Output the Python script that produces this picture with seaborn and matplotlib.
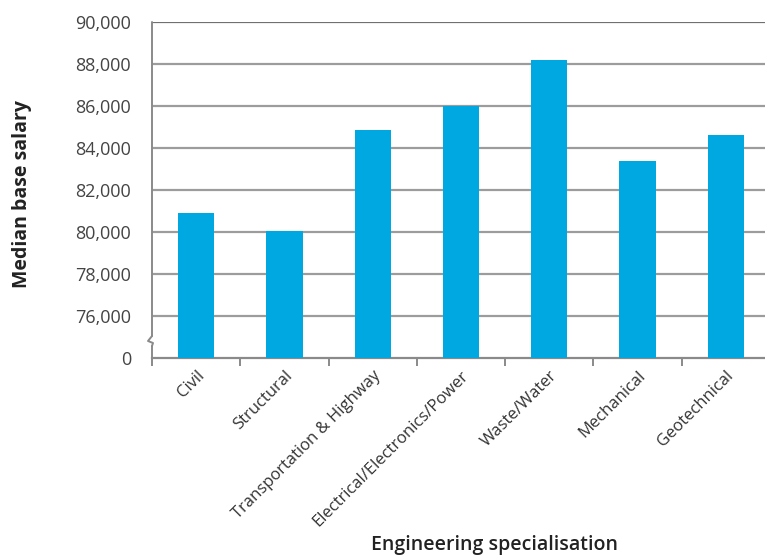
import numpy as np
import pandas as pd
import matplotlib
matplotlib.use("Agg")
import matplotlib.pyplot as plt
import matplotlib.ticker as mticker
from matplotlib.lines import Line2D
import seaborn as sns

# Median base salary by engineering specialisation
specialisations = [
    "Civil",
    "Structural",
    "Transportation & Highway",
    "Electrical/Electronics/Power",
    "Waste/Water",
    "Mechanical",
    "Geotechnical",
]
median_salary = [80900, 80030, 84870, 86010, 88200, 83390, 84630]

y_ticks = [0, 76000, 78000, 80000, 82000, 84000, 86000, 88000, 90000]

BREAK = 76000   # values below this are compressed into one tick step
STEP = 2000

df = pd.DataFrame({"specialisation": specialisations, "salary": median_salary})

sns.set_theme(style="white")
plt.rcParams["font.family"] = ["Open Sans", "DejaVu Sans"]

fig = plt.figure(figsize=(7.65, 5.55), dpi=100)
W, H = 765, 555
left_px, right_px, top_px, bottom_px = 152, 770, 22, 358
ax = fig.add_axes([left_px / W, 1 - bottom_px / H,
                   (right_px - left_px) / W, (bottom_px - top_px) / H])

bar_color = "#00A8E1"
sns.barplot(data=df, x="specialisation", y="salary", color=bar_color,
            width=0.41, saturation=1, linewidth=0, ax=ax, zorder=3)


# broken y axis: 0..76,000 occupies a single tick interval
def fwd(v):
    v = np.asarray(v, dtype=float)
    return np.where(v < BREAK, v * STEP / BREAK, v - (BREAK - STEP))


def inv(u):
    u = np.asarray(u, dtype=float)
    return np.where(u < STEP, u * BREAK / STEP, u + (BREAK - STEP))


ax.set_yscale("function", functions=(fwd, inv))
ax.set_ylim(0, 90000)
ax.set_xlim(-0.5, len(specialisations) - 0.5)

ax.yaxis.set_major_locator(mticker.FixedLocator(y_ticks))
ax.yaxis.set_minor_locator(mticker.NullLocator())
ax.yaxis.set_major_formatter(mticker.FuncFormatter(lambda v, p: f"{v:,.0f}"))

grid_color = "#9c9c9c"
for t in y_ticks[1:]:
    ax.axhline(t, color=grid_color if t < 90000 else "#707070",
               lw=1.6, zorder=1)

# category boundary ticks on the x axis
ax.set_xticks(range(len(specialisations)))
ax.set_xticklabels(specialisations, rotation=45, ha="right",
                   rotation_mode="anchor", fontsize=12, color="#333333")
ax.xaxis.set_minor_locator(mticker.FixedLocator(
    np.arange(-0.5, len(specialisations) + 0.5, 1.0)))
ax.tick_params(axis="x", which="major", length=0, pad=7)
ax.tick_params(axis="x", which="minor", length=6, width=1.2,
               color="#777777", direction="out", bottom=True)
ax.tick_params(axis="y", length=0, pad=15, labelsize=13,
               labelcolor="#444444")

for s in ["top", "right"]:
    ax.spines[s].set_visible(False)
ax.spines["bottom"].set_color("#8a8a8a")
ax.spines["bottom"].set_linewidth(1.6)
ax.spines["left"].set_visible(False)

# left spine drawn in two pieces with a zigzag break between them
ax_h = bottom_px - top_px
ax_w = right_px - left_px
def yf(px):
    return (bottom_px - px) / ax_h
def xf(dx):
    return dx / ax_w
spine_kw = dict(color="#8a8a8a", lw=1.4, transform=ax.transAxes,
                clip_on=False, zorder=5)
ax.add_line(Line2D([0, 0], [yf(bottom_px + 1), yf(346)], **spine_kw))
ax.add_line(Line2D([0, 0], [yf(336), 1.0], **spine_kw))
ax.add_line(Line2D([xf(0), xf(-4), xf(1), xf(0)],
                   [yf(336), yf(341), yf(343), yf(346)], **spine_kw))

ax.set_xlabel("")
ax.set_ylabel("")
fig.text(22 / W, 1 - 194 / H, "Median base salary", rotation=90,
         ha="center", va="center", fontsize=14, fontweight="bold",
         color="#222222")
fig.text(494 / W, 1 - 545 / H, "Engineering specialisation",
         ha="center", va="center", fontsize=14, fontweight="semibold",
         color="#222222")

fig.savefig("out.png", dpi=100)
